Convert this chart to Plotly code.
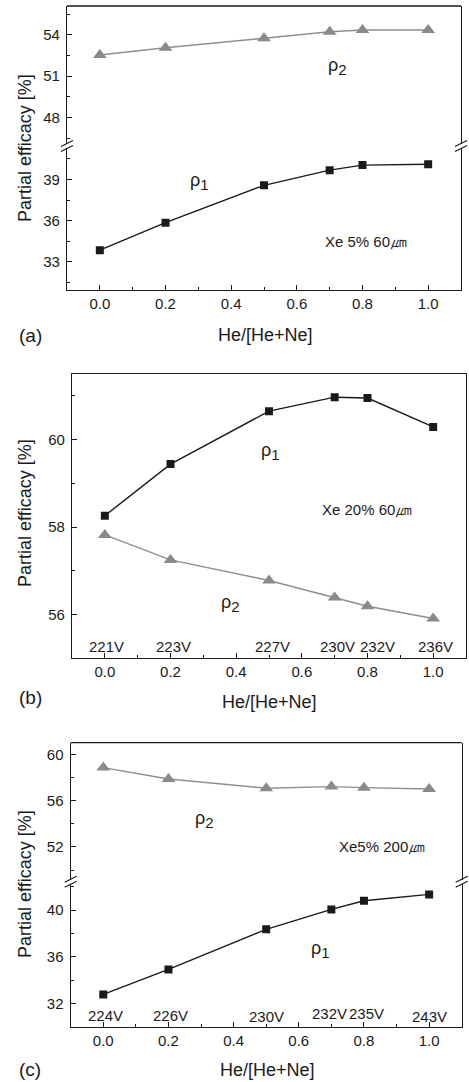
import plotly.graph_objects as go

W, H = 469, 1082

# ---------------- data ----------------
he_frac = [0.0, 0.2, 0.5, 0.7, 0.8, 1.0]

a_rho1 = [33.85, 35.85, 38.57, 39.67, 40.04, 40.10]
a_rho2 = [52.53, 53.06, 53.74, 54.22, 54.34, 54.34]

b_rho1 = [58.26, 59.44, 60.65, 60.97, 60.95, 60.29]
b_rho2 = [57.82, 57.25, 56.78, 56.39, 56.19, 55.91]
b_volts = ["221V", "223V", "227V", "230V", "232V", "236V"]

c_rho1 = [32.77, 34.91, 38.35, 40.06, 40.80, 41.35]
c_rho2 = [58.85, 57.87, 57.07, 57.21, 57.12, 57.00]
c_volts = ["224V", "226V", "230V", "232V", "235V", "243V"]

x_ticks = [0.0, 0.2, 0.4, 0.6, 0.8, 1.0]
x_title = "He/[He+Ne]"
y_title = "Partial efficacy [%]"
panel_labels = ["(a)", "(b)", "(c)"]
notes = ["Xe 5% 60㎛", "Xe 20% 60㎛", "Xe5% 200㎛"]

# ---------------- styling / placement (not data) ----------------
FONT = "Liberation Sans, Arial, sans-serif"
INK = "#1a1a1a"
GREY = "#8a8a8a"
GREY_LINE = "#8e8e8e"
b_volt_shift = [2, 3, 3, 3, 10, 2]       # pixel nudges of the voltage labels
c_volt_shift = [2, 2, 0, -2, 3, 0]
c_volt_lift = [0, 0, -1, 2, 2, -1]


def px(x):
    return x / W


def py(y):
    return 1 - y / H


fig = go.Figure()

# panel geometry (pixels)
A = dict(l=67, r=461, top=6, brk=146, bot=290)
B = dict(l=72, r=466, top=374, bot=658.3)
C = dict(l=70.7, r=461.7, top=742.7, brk=881.7, bot=1026.7)
GAP = 2.2


def add_series(xa, ya, y, kind):
    if kind == 1:
        fig.add_trace(go.Scatter(x=he_frac, y=y, xaxis=xa, yaxis=ya, mode="lines+markers",
                                 line=dict(color=INK, width=1.4),
                                 marker=dict(symbol="square", size=8, color=INK),
                                 showlegend=False))
    else:
        fig.add_trace(go.Scatter(x=he_frac, y=y, xaxis=xa, yaxis=ya, mode="lines+markers",
                                 line=dict(color=GREY_LINE, width=1.4),
                                 marker=dict(symbol="triangle-up", size=12, color=GREY),
                                 showlegend=False))


add_series("x", "y", a_rho1, 1)
add_series("x", "y2", a_rho2, 2)
add_series("x2", "y3", b_rho1, 1)
add_series("x2", "y3", b_rho2, 2)
add_series("x3", "y4", c_rho1, 1)
add_series("x3", "y5", c_rho2, 2)

tickfont = dict(family=FONT, size=15, color=INK)


def xaxis(P, anchor, mirror=False):
    return dict(domain=[px(P["l"]), px(P["r"])], anchor=anchor, range=[-0.1, 1.1],
                tickvals=x_ticks, tickformat=".1f", ticks="inside", ticklen=5, tickwidth=1.2,
                tickcolor=INK, minor=dict(ticks="inside", ticklen=3, dtick=0.1, tick0=0, tickcolor=INK),
                showline=True, linecolor=INK, linewidth=1.3, mirror=mirror,
                showgrid=False, zeroline=False, tickfont=tickfont, fixedrange=True)


def yaxis(ybot, ytop, rng, dtick, mdtick, anchor):
    return dict(domain=[py(ybot), py(ytop)], anchor=anchor, range=rng,
                dtick=dtick, tick0=0, ticks="inside", ticklen=5, tickwidth=1.2, tickcolor=INK,
                minor=dict(ticks="inside", ticklen=3, dtick=mdtick, tick0=0, tickcolor=INK),
                showline=True, linecolor=INK, linewidth=1.3, mirror=True,
                showgrid=False, zeroline=False, tickfont=tickfont, ticklabelstandoff=3,
                fixedrange=True)


fig.update_layout(
    width=W, height=H, margin=dict(l=0, r=0, t=0, b=0),
    paper_bgcolor="white", plot_bgcolor="white",
    xaxis=xaxis(A, "y"),
    yaxis=yaxis(A["bot"], A["brk"] + GAP, [30.95, 41.27], 3, 1.5, "x"),
    yaxis2=yaxis(A["brk"] - GAP, A["top"], [46.1, 56.08], 3, 1.5, "x"),
    xaxis2=xaxis(B, "y3", mirror=True),
    yaxis3=yaxis(B["bot"], B["top"], [55.0, 61.5], 2, 1, "x2"),
    xaxis3=xaxis(C, "y4"),
    yaxis4=yaxis(C["bot"], C["brk"] + GAP, [30.0, 42.25], 4, 2, "x3"),
    yaxis5=yaxis(C["brk"] - GAP, C["top"], [49.19, 61.0], 4, 2, "x3"),
)

shapes = []
# top frame lines for the broken panels
for P in (A, C):
    shapes.append(dict(type="line", xref="paper", yref="paper", x0=px(P["l"]), x1=px(P["r"]),
                       y0=py(P["top"]), y1=py(P["top"]), line=dict(color=INK, width=1.3)))
    # break marks on left and right axes
    for xb in (P["l"], P["r"]):
        for off in (-GAP - 0.3, GAP + 0.3):
            yc = P["brk"] + off
            shapes.append(dict(type="line", xref="paper", yref="paper",
                               x0=px(xb - 6), y0=py(yc + 3), x1=px(xb + 6), y1=py(yc - 3),
                               line=dict(color=INK, width=1.2)))
fig.update_layout(shapes=shapes)

ann = []


def text(x, y, s, size=15, **kw):
    d = dict(x=px(x), y=py(y), xref="paper", yref="paper", text=s, showarrow=False,
             font=dict(family=FONT, size=size, color=INK), xanchor="center", yanchor="middle")
    d.update(kw)
    ann.append(d)


def rho(i):
    return "ρ<sub><span style='font-size:15px'>%d</span></sub>" % i


def note(s):
    return s.replace("㎛", "<span style='font-size:17px'>㎛</span>")


# axis titles & panel labels
for (ycen, xt_y, xt_x) in ((148, 335, 265), (513, 702, 269), (884, 1070, 267)):
    text(25, ycen, y_title, size=18, textangle=-90)
    text(xt_x, xt_y, x_title, size=18)

text(17, 335, panel_labels[0], size=19, xanchor="left")
text(17, 697, panel_labels[1], size=19, xanchor="left")
text(17, 1069, panel_labels[2], size=19, xanchor="left")

# series labels
text(337, 66, rho(2), size=18)
text(199, 181, rho(1), size=18)
text(366, 242, note(notes[0]), size=15)

text(270, 451, rho(1), size=18)
text(367, 510, note(notes[1]), size=15)
text(230, 603, rho(2), size=18)

text(204, 819, rho(2), size=18)
text(382, 846, note(notes[2]), size=15)
text(320, 949, rho(1), size=18)

# voltage labels under the points
for xv, v, sh in zip(he_frac, b_volts, b_volt_shift):
    ann.append(dict(x=xv, y=55.27, xref="x2", yref="y3", text=v, showarrow=False, xshift=sh,
                    font=dict(family=FONT, size=15, color=INK), xanchor="center", yanchor="middle"))
for xv, v, sh, lift in zip(he_frac, c_volts, c_volt_shift, c_volt_lift):
    ann.append(dict(x=xv, y=31.0, xref="x3", yref="y4", text=v, showarrow=False, xshift=sh, yshift=lift,
                    font=dict(family=FONT, size=15, color=INK), xanchor="center", yanchor="middle"))

fig.update_layout(annotations=ann)

fig.write_html("out.html", config={"displayModeBar": False},
               post_script="document.body.style.margin='0';document.body.style.overflow='hidden';")
